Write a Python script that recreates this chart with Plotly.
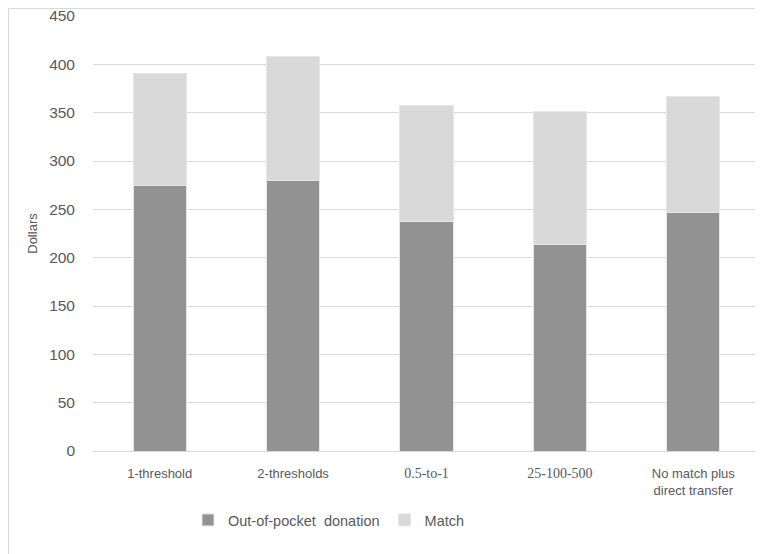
import plotly.graph_objects as go

categories = ["1-threshold", "2-thresholds", "0.5-to-1", "25-100-500", "No match plus direct transfer"]
tick_labels = [
    "1-threshold",
    "2-thresholds",
    '<span style="font-family:Liberation Serif;font-size:14px">0.5-to-1</span>',
    '<span style="font-family:Liberation Serif;font-size:14px">25-100-500</span>',
    "No match plus<br>direct transfer",
]
out_of_pocket = [274.5, 280, 237.5, 214, 246.5]
match = [116.5, 128.5, 120, 137.5, 120]
y_ticks = [0, 50, 100, 150, 200, 250, 300, 350, 400, 450]

# the page places the figure 8 px in from the window's top-left corner
W, H = 755, 546
ml, mr, mt, mb = 85, 3, 8, 103
pw, ph = W - ml - mr, H - mt - mb

fig = go.Figure()
fig.add_trace(go.Bar(x=categories, y=out_of_pocket, name="Out-of-pocket  donation",
                     marker=dict(color="#929292", line=dict(color="#e6e6e6", width=1))))
fig.add_trace(go.Bar(x=categories, y=match, name="Match",
                     marker=dict(color="#d9d9d9", line=dict(color="#e6e6e6", width=1))))

def px_x(p):
    return (p - ml) / pw

def px_y(p):
    return (H - mb - p) / ph

fig.update_layout(
    width=W, height=H,
    margin=dict(l=ml, r=mr, t=mt, b=mb, autoexpand=False),
    barmode="stack", bargap=0.6,
    plot_bgcolor="white", paper_bgcolor="white",
    font=dict(family="Liberation Sans", size=13, color="#595959"),
    xaxis=dict(tickmode="array", tickvals=categories, ticktext=tick_labels,
               showline=True, linecolor="#d9d9d9", linewidth=1, ticks="",
               ticklabelstandoff=10, automargin=False,
               tickfont=dict(size=13, color="#595959")),
    yaxis=dict(range=[0, 450], tickvals=y_ticks, showgrid=True, gridcolor="#d9d9d9",
               gridwidth=1, zeroline=False, showline=False, ticks="",
               ticklabelstandoff=17, ticklabeloverflow="allow", automargin=False,
               title=dict(text="Dollars", font=dict(size=13, color="#595959"), standoff=8),
               tickfont=dict(size=15.5, color="#595959")),
    legend=dict(orientation="h", x=px_x(180), xanchor="left", y=px_y(512), yanchor="middle",
                font=dict(size=14.5, color="#595959"), traceorder="normal"),
    shapes=[
        dict(type="line", xref="paper", yref="paper", x0=px_x(0.5), x1=px_x(0.5),
             y0=px_y(H), y1=px_y(0.5), line=dict(color="#d9d9d9", width=1)),
        dict(type="line", xref="paper", yref="paper", x0=px_x(0.5), x1=px_x(W),
             y0=px_y(0.5), y1=px_y(0.5), line=dict(color="#d9d9d9", width=1)),
    ],
)
fig.write_html("out.html")
